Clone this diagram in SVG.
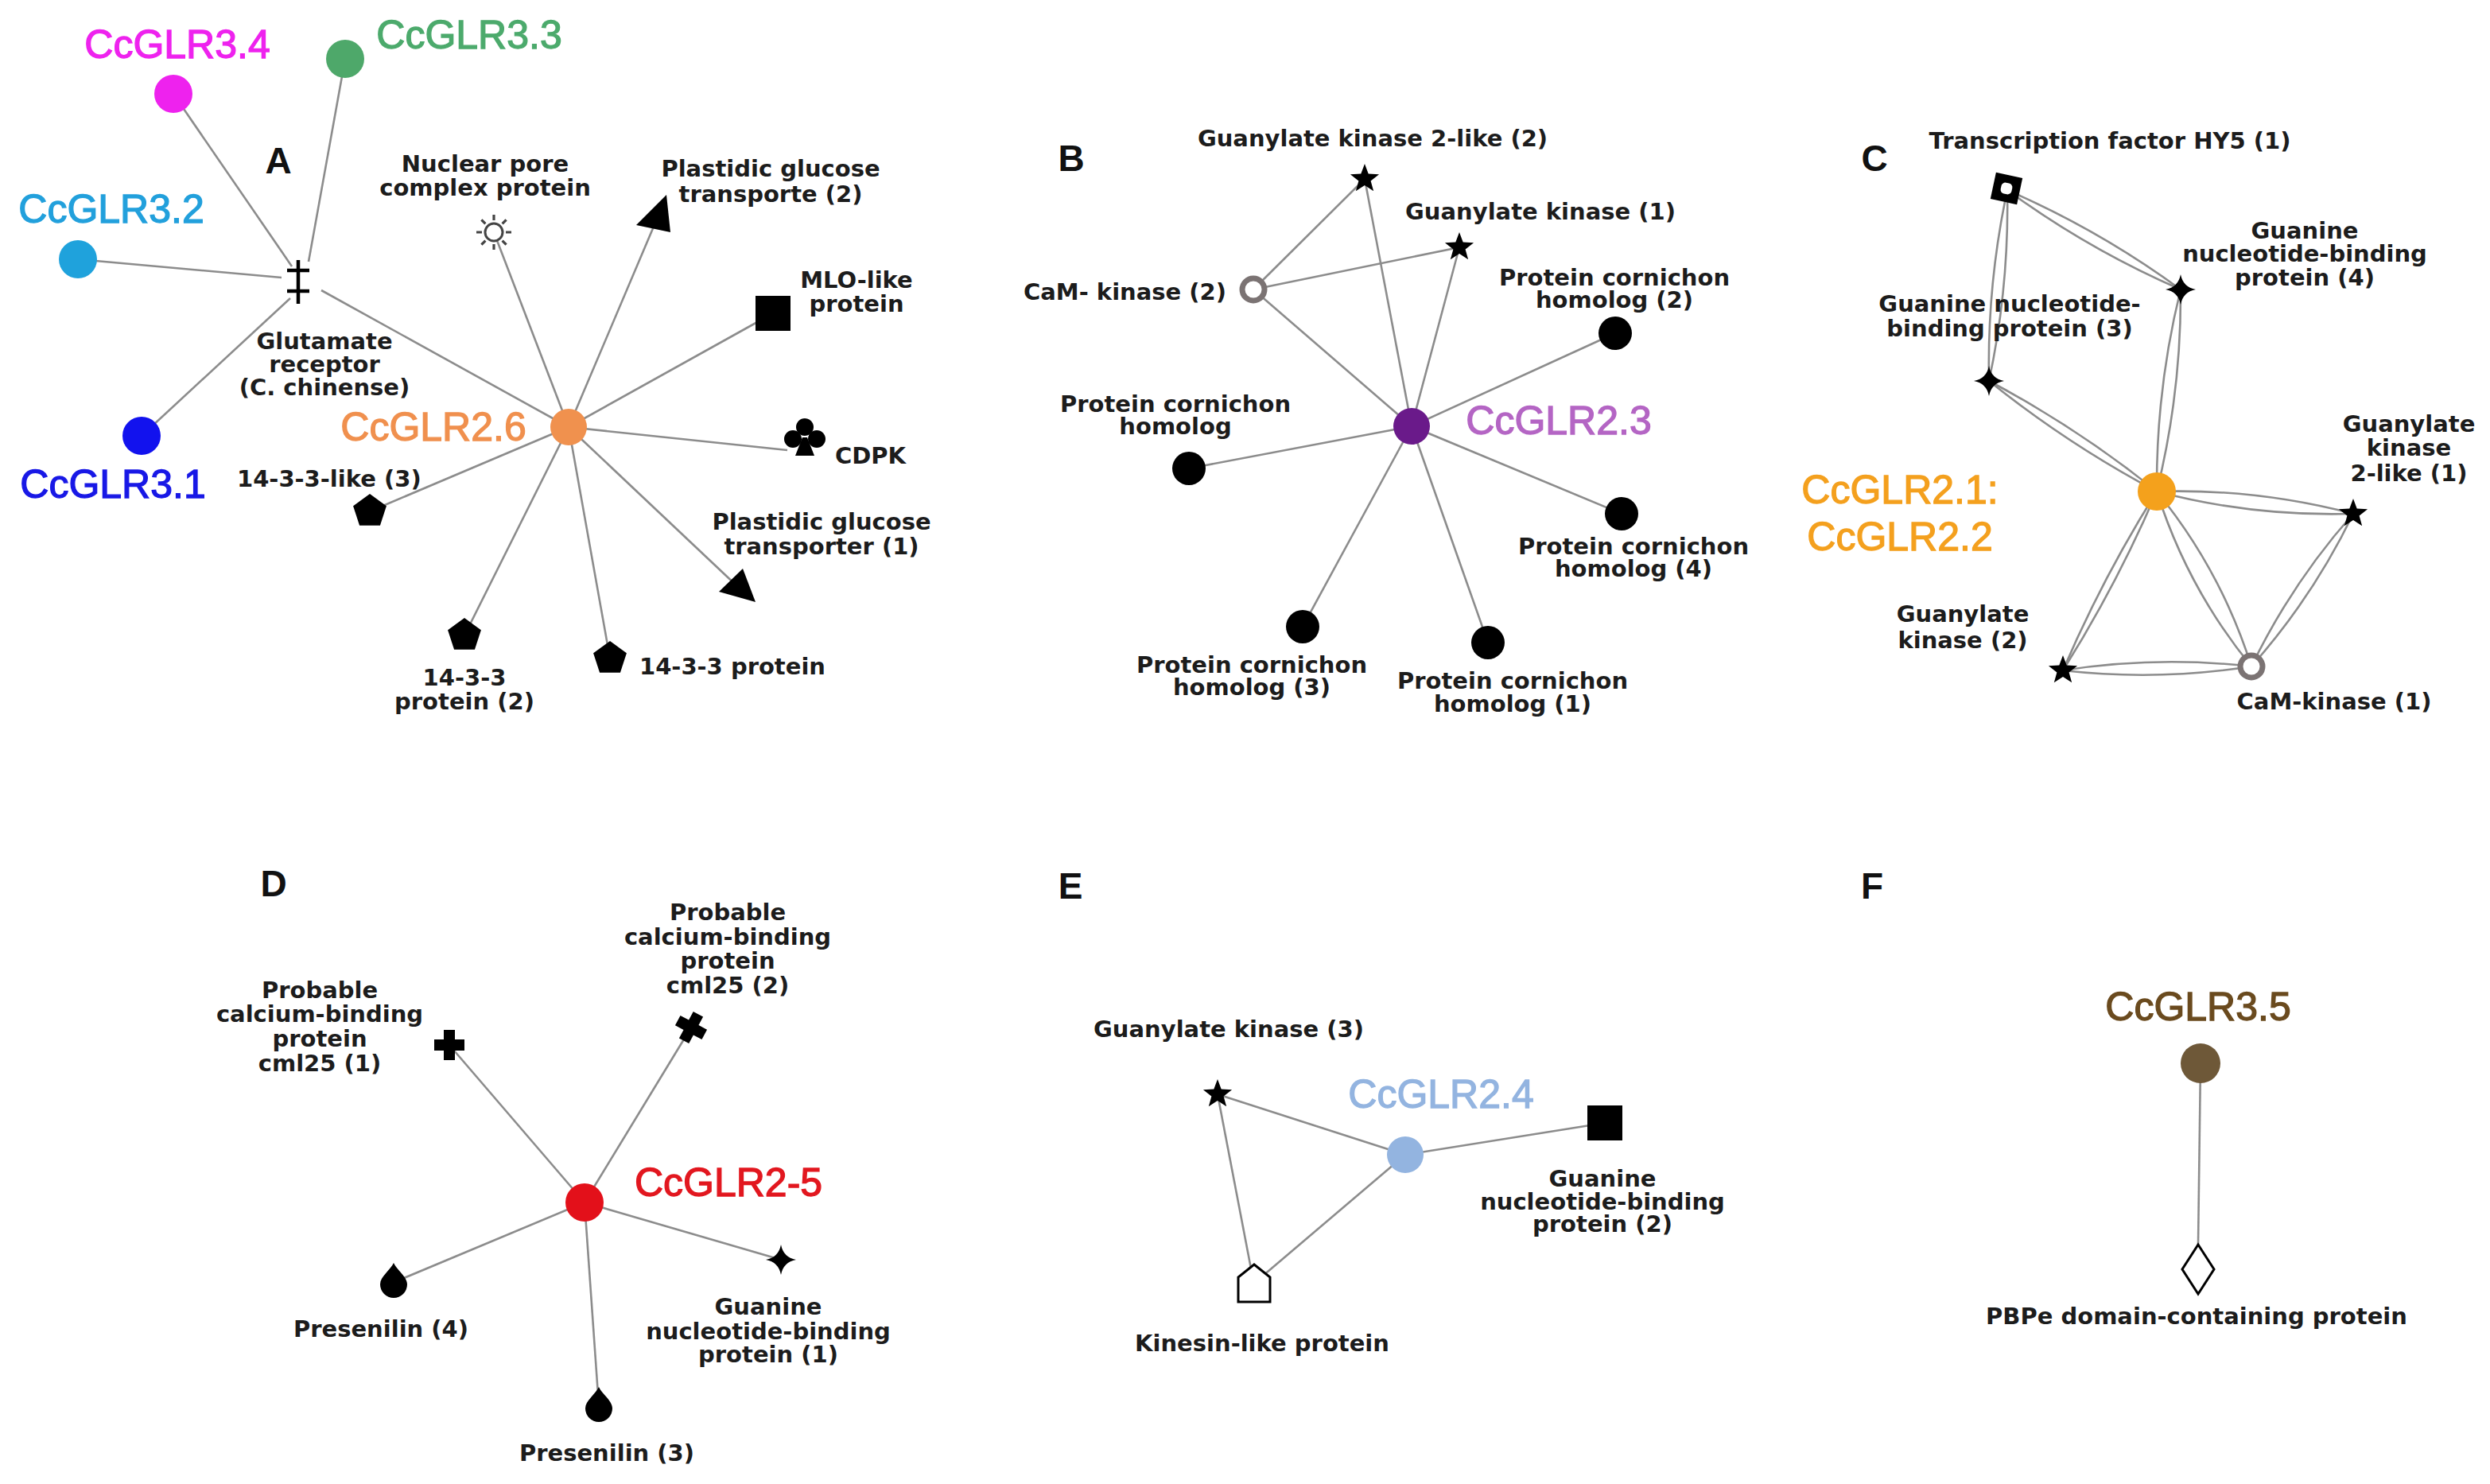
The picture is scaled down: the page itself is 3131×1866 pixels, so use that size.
<svg xmlns="http://www.w3.org/2000/svg" width="3131" height="1866" viewBox="0 0 3131 1866">
<style>
.e{stroke:#8c8c8c;stroke-width:2.6;fill:none}
.lbl{font-family:"DejaVu Sans",sans-serif;font-weight:bold;font-size:29px;fill:#1c1c1c;text-anchor:middle}
.st{text-anchor:start}
.en{text-anchor:end}
.hub{font-family:"Liberation Sans",Arial,sans-serif;font-size:50px;text-anchor:middle;stroke-width:1.3}
.pl{font-family:"Liberation Sans",Arial,sans-serif;font-weight:bold;font-size:46px;fill:#111;text-anchor:middle}
.blk{fill:#000}
.ring{fill:#fff;stroke:#7b7373;stroke-width:7}
.out{fill:#fff;stroke:#000;stroke-width:3}
</style>
<defs>
<path id="star5" d="M0,-19 L4.7,-6.47 L18.07,-5.87 L7.61,2.47 L11.17,15.37 L0,8 L-11.17,15.37 L-7.61,2.47 L-18.07,-5.87 L-4.7,-6.47 Z"/>
<path id="star4" d="M0,-19 Q3,-3 19,0 Q3,3 0,19 Q-3,3 -19,0 Q-3,-3 0,-19 Z"/>
<polygon id="pent" points="0,-22 20.92,-6.8 12.93,17.8 -12.93,17.8 -20.92,-6.8"/>
<path id="drop" d="M0,-22 C4,-13 17,-5 17,5 A17,17 0 0 1 -17,5 C-17,-5 -4,-13 0,-22 Z"/>
<path id="plus" d="M-7,-19 H7 V-7 H19 V7 H7 V19 H-7 V7 H-19 V-7 H-7 Z"/>
</defs>
<rect width="3131" height="1866" fill="#fff"/>

<g id="panel-labels">
<text class="pl" x="350" y="218">A</text>
<text class="pl" x="1347" y="215">B</text>
<text class="pl" x="2357" y="215">C</text>
<text class="pl" x="344" y="1127">D</text>
<text class="pl" x="1346" y="1130">E</text>
<text class="pl" x="2354" y="1130">F</text>
</g>

<g id="connectors">
<!-- Panel A -->
<line class="e" x1="367" y1="335" x2="218" y2="118"/>
<line class="e" x1="388" y1="329" x2="434" y2="74"/>
<line class="e" x1="354" y1="349" x2="98" y2="326"/>
<line class="e" x1="365" y1="375" x2="178" y2="548"/>
<line class="e" x1="404" y1="365" x2="715" y2="537"/>
<line class="e" x1="715" y1="537" x2="621" y2="292"/>
<line class="e" x1="715" y1="537" x2="827" y2="273"/>
<line class="e" x1="715" y1="537" x2="972" y2="394"/>
<line class="e" x1="715" y1="537" x2="990" y2="566"/>
<line class="e" x1="715" y1="537" x2="929" y2="739"/>
<line class="e" x1="715" y1="537" x2="767" y2="828"/>
<line class="e" x1="715" y1="537" x2="584" y2="799"/>
<line class="e" x1="715" y1="537" x2="465" y2="643"/>
<!-- Panel B -->
<line class="e" x1="1576" y1="364" x2="1716" y2="225"/>
<line class="e" x1="1576" y1="364" x2="1835" y2="311"/>
<line class="e" x1="1576" y1="364" x2="1775" y2="536"/>
<line class="e" x1="1716" y1="225" x2="1775" y2="536"/>
<line class="e" x1="1835" y1="311" x2="1775" y2="536"/>
<line class="e" x1="1775" y1="536" x2="2031" y2="419"/>
<line class="e" x1="1775" y1="536" x2="1495" y2="589"/>
<line class="e" x1="1775" y1="536" x2="2039" y2="646"/>
<line class="e" x1="1775" y1="536" x2="1638" y2="788"/>
<line class="e" x1="1775" y1="536" x2="1871" y2="808"/>
<!-- Panel C (paired curved edges) -->
<path class="e" d="M2524,239 Q2498.6,357.7 2501,479"/>
<path class="e" d="M2524,239 Q2526.4,360.3 2501,479"/>
<path class="e" d="M2524,239 Q2626,313.6 2742,364"/>
<path class="e" d="M2524,239 Q2640,289.4 2742,364"/>
<path class="e" d="M2501,479 Q2599.9,558.5 2712,618"/>
<path class="e" d="M2501,479 Q2613.1,538.5 2712,618"/>
<path class="e" d="M2742,364 Q2711.1,489.1 2712,618"/>
<path class="e" d="M2742,364 Q2742.9,492.9 2712,618"/>
<path class="e" d="M2712,618 Q2833.5,649.9 2959,646"/>
<path class="e" d="M2712,618 Q2837.5,614.1 2959,646"/>
<path class="e" d="M2712,618 Q2644.1,725.9 2594,843"/>
<path class="e" d="M2712,618 Q2661.9,735.1 2594,843"/>
<path class="e" d="M2712,618 Q2750.4,739.4 2831,838"/>
<path class="e" d="M2712,618 Q2792.6,716.6 2831,838"/>
<path class="e" d="M2959,646 Q2881.7,733.1 2831,838"/>
<path class="e" d="M2959,646 Q2908.3,750.9 2831,838"/>
<path class="e" d="M2594,843 Q2712.8,856.5 2831,838"/>
<path class="e" d="M2594,843 Q2712.2,824.5 2831,838"/>
<!-- Panel D -->
<line class="e" x1="735" y1="1512" x2="565" y2="1314"/>
<line class="e" x1="735" y1="1512" x2="869" y2="1292"/>
<line class="e" x1="735" y1="1512" x2="496" y2="1612"/>
<line class="e" x1="735" y1="1512" x2="753" y2="1768"/>
<line class="e" x1="735" y1="1512" x2="982" y2="1584"/>
<!-- Panel E -->
<line class="e" x1="1531" y1="1376" x2="1767" y2="1452"/>
<line class="e" x1="1531" y1="1376" x2="1573" y2="1595"/>
<line class="e" x1="1587" y1="1605" x2="1767" y2="1452"/>
<line class="e" x1="1767" y1="1452" x2="2018" y2="1412"/>
<!-- Panel F -->
<line class="e" x1="2767" y1="1337" x2="2764" y2="1566"/>
</g>

<!-- ===== Panel A nodes ===== -->
<g id="CcGLR3.4"><circle cx="218" cy="118" r="24" fill="#ee22ee"/><text class="hub" x="223" y="73" fill="#ee22ee" stroke="#ee22ee">CcGLR3.4</text></g>
<g id="CcGLR3.3"><circle cx="434" cy="74" r="24" fill="#4ea86a"/><text class="hub" x="590" y="61" fill="#4caa6c" stroke="#4caa6c">CcGLR3.3</text></g>
<g id="CcGLR3.2"><circle cx="98" cy="326" r="24" fill="#1fa2dc"/><text class="hub" x="140" y="280" fill="#22a0dc" stroke="#22a0dc">CcGLR3.2</text></g>
<g id="CcGLR3.1"><circle cx="178" cy="548" r="24" fill="#1212ee"/><text class="hub" x="142" y="626" fill="#1818e6" stroke="#1818e6">CcGLR3.1</text></g>
<g id="glutamate-receptor">
<path d="M375,327 V382 M361,340 H389 M361,366 H389" stroke="#000" stroke-width="4.5" fill="none"/>
<text class="lbl" x="408" y="439">Glutamate</text>
<text class="lbl" x="408" y="468">receptor</text>
<text class="lbl" x="408" y="497">(C. chinense)</text>
</g>
<g id="CcGLR2.6"><circle cx="715" cy="537" r="23" fill="#f0914e"/><text class="hub" x="545" y="554" fill="#f0904e" stroke="#f0904e">CcGLR2.6</text></g>
<g id="nuclear-pore">
<g transform="translate(621,292)">
<circle r="11" fill="#fff" stroke="#444" stroke-width="3"/>
<path d="M15,0 H22 M-15,0 H-22 M0,15 V22 M0,-15 V-22 M10.6,10.6 L15.6,15.6 M-10.6,10.6 L-15.6,15.6 M-10.6,-10.6 L-15.6,-15.6 M10.6,-10.6 L15.6,-15.6" stroke="#444" stroke-width="3.2"/>
</g>
<text class="lbl" x="610" y="216">Nuclear pore</text>
<text class="lbl" x="610" y="246">complex protein</text>
</g>
<g id="plastidic-2">
<polygon class="blk" points="838,245 800,283 843,292"/>
<text class="lbl" x="969" y="222">Plastidic glucose</text>
<text class="lbl" x="969" y="254">transporte (2)</text>
</g>
<g id="mlo-like">
<rect class="blk" x="950" y="372" width="44" height="44"/>
<text class="lbl" x="1077" y="362">MLO-like</text>
<text class="lbl" x="1077" y="392">protein</text>
</g>
<g id="cdpk">
<g transform="translate(1012,552)" fill="#000">
<circle cx="0" cy="-15" r="11"/><circle cx="-15" cy="0" r="11"/><circle cx="15" cy="0" r="11"/>
<polygon points="-3,-2 3,-2 12,21 -12,21"/>
</g>
<text class="lbl st" x="1050" y="583">CDPK</text>
</g>
<g id="plastidic-1">
<polygon class="blk" points="934,715 904,744 950,757"/>
<text class="lbl" x="1033" y="666">Plastidic glucose</text>
<text class="lbl" x="1033" y="697">transporter (1)</text>
</g>
<g id="p1433">
<use href="#pent" x="767" y="828"/>
<text class="lbl st" x="804" y="848">14-3-3 protein</text>
</g>
<g id="p1433-2">
<use href="#pent" x="584" y="799"/>
<text class="lbl" x="584" y="862">14-3-3</text>
<text class="lbl" x="584" y="892">protein (2)</text>
</g>
<g id="p1433-like-3">
<use href="#pent" x="465" y="643"/>
<text class="lbl st" x="298" y="612">14-3-3-like (3)</text>
</g>

<!-- ===== Panel B nodes ===== -->
<g id="B-gk2like2"><use href="#star5" x="1716" y="225"/><text class="lbl" x="1726" y="184">Guanylate kinase 2-like (2)</text></g>
<g id="B-gk1"><use href="#star5" x="1835" y="311"/><text class="lbl" x="1937" y="276">Guanylate kinase (1)</text></g>
<g id="B-cam2"><circle class="ring" cx="1576" cy="364" r="14"/><text class="lbl en" x="1542" y="377">CaM- kinase (2)</text></g>
<g id="CcGLR2.3"><circle cx="1775" cy="536" r="23" fill="#6a1a8a"/><text class="hub" x="1960" y="546" fill="#b465c4" stroke="#b465c4">CcGLR2.3</text></g>
<g id="B-pc2"><circle cx="2031" cy="419" r="21"/><text class="lbl" x="2030" y="359">Protein cornichon</text><text class="lbl" x="2030" y="387">homolog (2)</text></g>
<g id="B-pc"><circle cx="1495" cy="589" r="21"/><text class="lbl" x="1478" y="518">Protein cornichon</text><text class="lbl" x="1478" y="546">homolog</text></g>
<g id="B-pc4"><circle cx="2039" cy="646" r="21"/><text class="lbl" x="2054" y="697">Protein cornichon</text><text class="lbl" x="2054" y="725">homolog (4)</text></g>
<g id="B-pc3"><circle cx="1638" cy="788" r="21"/><text class="lbl" x="1574" y="846">Protein cornichon</text><text class="lbl" x="1574" y="874">homolog (3)</text></g>
<g id="B-pc1"><circle cx="1871" cy="808" r="21"/><text class="lbl" x="1902" y="866">Protein cornichon</text><text class="lbl" x="1902" y="895">homolog (1)</text></g>

<!-- ===== Panel C nodes ===== -->
<g id="C-hy5">
<g transform="translate(2523,237) rotate(12)"><rect x="-17" y="-17" width="34" height="34" fill="#000"/><rect x="-7" y="-7" width="14" height="14" rx="5" fill="#fff"/></g>
<text class="lbl" x="2653" y="187">Transcription factor HY5 (1)</text>
</g>
<g id="C-gnbp4"><use href="#star4" x="2742" y="364"/><text class="lbl" x="2898" y="300">Guanine</text><text class="lbl" x="2898" y="329">nucleotide-binding</text><text class="lbl" x="2898" y="359">protein (4)</text></g>
<g id="C-gnbp3"><use href="#star4" x="2501" y="479"/><text class="lbl" x="2527" y="392">Guanine nucleotide-</text><text class="lbl" x="2527" y="423">binding protein (3)</text></g>
<g id="CcGLR2.1-2.2"><circle cx="2712" cy="618" r="24" fill="#f4a11c"/><text class="hub st" x="2389" y="633" fill="#f4a01e" stroke="#f4a01e">CcGLR2.1:</text><text class="hub st" x="2389" y="692" fill="#f4a01e" stroke="#f4a01e">CcGLR2.2</text></g>
<g id="C-gk2like1"><use href="#star5" x="2959" y="646"/><text class="lbl" x="3029" y="543">Guanylate</text><text class="lbl" x="3029" y="573">kinase</text><text class="lbl" x="3029" y="605">2-like (1)</text></g>
<g id="C-gk2"><use href="#star5" x="2594" y="843"/><text class="lbl" x="2468" y="782">Guanylate</text><text class="lbl" x="2468" y="815">kinase (2)</text></g>
<g id="C-cam1"><circle class="ring" cx="2831" cy="838" r="14"/><text class="lbl" x="2935" y="892">CaM-kinase (1)</text></g>

<!-- ===== Panel D nodes ===== -->
<g id="CcGLR2-5"><circle cx="735" cy="1512" r="24" fill="#e3101a"/><text class="hub" x="916" y="1504" fill="#e2171f" stroke="#e2171f">CcGLR2-5</text></g>
<g id="D-cml25-1"><use href="#plus" x="565" y="1314"/><text class="lbl" x="402" y="1255">Probable</text><text class="lbl" x="402" y="1285">calcium-binding</text><text class="lbl" x="402" y="1316">protein</text><text class="lbl" x="402" y="1347">cml25 (1)</text></g>
<g id="D-cml25-2"><g transform="translate(869,1292) rotate(28)"><use href="#plus"/></g><text class="lbl" x="915" y="1157">Probable</text><text class="lbl" x="915" y="1188">calcium-binding</text><text class="lbl" x="915" y="1218">protein</text><text class="lbl" x="915" y="1249">cml25 (2)</text></g>
<g id="D-pres4"><use href="#drop" x="495" y="1610"/><text class="lbl" x="479" y="1681">Presenilin (4)</text></g>
<g id="D-pres3"><use href="#drop" x="753" y="1766"/><text class="lbl" x="763" y="1837">Presenilin (3)</text></g>
<g id="D-gnbp1"><use href="#star4" x="982" y="1584"/><text class="lbl" x="966" y="1653">Guanine</text><text class="lbl" x="966" y="1684">nucleotide-binding</text><text class="lbl" x="966" y="1713">protein (1)</text></g>

<!-- ===== Panel E nodes ===== -->
<g id="E-gk3"><use href="#star5" x="1531" y="1376"/><text class="lbl" x="1545" y="1304">Guanylate kinase (3)</text></g>
<g id="CcGLR2.4"><circle cx="1767" cy="1452" r="23" fill="#93b4e0"/><text class="hub" x="1812" y="1393" fill="#93b4e0" stroke="#93b4e0">CcGLR2.4</text></g>
<g id="E-gnbp2"><rect class="blk" x="1996" y="1390" width="44" height="44"/><text class="lbl" x="2015" y="1492">Guanine</text><text class="lbl" x="2015" y="1521">nucleotide-binding</text><text class="lbl" x="2015" y="1549">protein (2)</text></g>
<g id="E-kinesin"><path class="out" d="M1577,1590 L1597,1606 L1597,1637 L1557,1637 L1557,1606 Z"/><text class="lbl" x="1587" y="1699">Kinesin-like protein</text></g>

<!-- ===== Panel F nodes ===== -->
<g id="CcGLR3.5"><circle cx="2767" cy="1337" r="25" fill="#6e5838"/><text class="hub" x="2764" y="1283" fill="#6a4a1e" stroke="#6a4a1e">CcGLR3.5</text></g>
<g id="F-pbpe"><path class="out" d="M2764,1565 L2784,1596 L2764,1627 L2744,1596 Z"/><text class="lbl" x="2762" y="1665">PBPe domain-containing protein</text></g>
</svg>
